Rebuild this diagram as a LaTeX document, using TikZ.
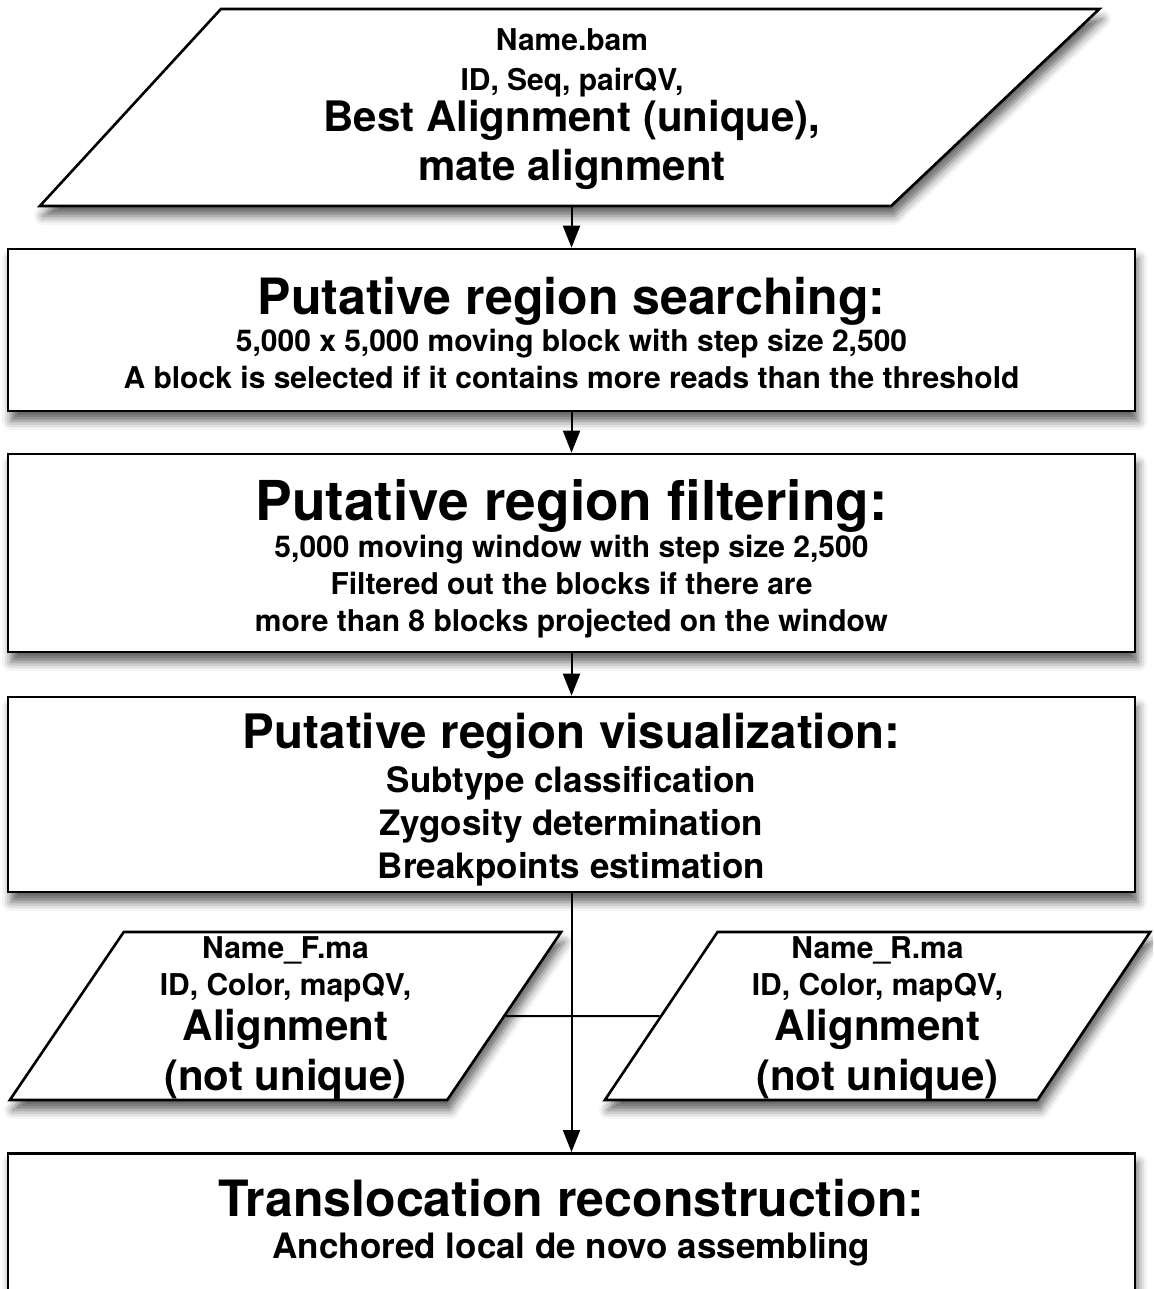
\documentclass[tikz,border=0pt]{standalone}
\usepackage{fontspec}
\setmainfont{TeX Gyre Heros}
\usepackage{tikz}
\usetikzlibrary{arrows.meta}
\usetikzlibrary{shapes.geometric}
\usetikzlibrary{shadows.blur}
\usetikzlibrary{positioning}

\newcommand{\titlesz}{\fontsize{50}{56}\selectfont}
\newcommand{\midsz}{\fontsize{42}{48}\selectfont}
\newcommand{\subsz}{\fontsize{35}{42}\selectfont}
\newcommand{\smallsz}{\fontsize{30}{37}\selectfont}
\newcommand{\padl}{\hspace*{32pt}}

\tikzset{
  softshadow/.style={blur shadow={shadow xshift=3pt, shadow yshift=-10pt,
      shadow blur radius=9pt, shadow opacity=62}},
  stage/.style={draw, line width=2.6pt, fill=white, softshadow,
      minimum width=1127pt, align=center, font=\bfseries\smallsz},
  datain/.style={trapezium, trapezium stretches=true, draw, line width=2.6pt,
      fill=white, softshadow, align=center, inner sep=0pt, font=\bfseries\smallsz},
  boxtext/.style={align=center, inner sep=0pt, font=\bfseries\smallsz},
  flow/.style={line width=2pt, -{Triangle[length=22pt, width=17pt]}},
  joinline/.style={line width=2pt}
}

\begin{document}
\begin{tikzpicture}[x=1pt, y=-1pt]
  \clip (0,0) rectangle (1153,1289);
  \useasboundingbox (0,0) rectangle (1153,1289);

  % input reads
  \node[datain, trapezium left angle=49, trapezium right angle=135,
        minimum width=1064pt, minimum height=197pt] (bam) at (556,107.5)
        {\padl\rule{0pt}{25pt}Name.bam\\[3pt]\padl ID, Seq, pairQV,\\[2pt]{\midsz\padl Best Alignment (unique),}\\[8pt]{\midsz\padl mate alignment}};

  % pipeline steps
  \node[stage, minimum height=162pt] (search) at (571.5,330)
        {{\titlesz\rule{0pt}{43pt}Putative region searching:}\\
         5,000 x 5,000 moving block with step size 2,500\\
         A block is selected if it contains more reads than the threshold};
  \node[stage, minimum height=198pt] (filter) at (571.5,553)
        {{\fontsize{55}{60}\selectfont\rule{0pt}{52pt}Putative region filtering:}\\
         5,000 moving window with step size 2,500\\
         Filtered out the blocks if there are\\
         more than 8 blocks projected on the window};
  \node[stage, minimum height=195pt] (visual) at (571.5,794.5)
        {{\fontsize{47.5}{54}\selectfont\rule{0pt}{45pt}Putative region visualization:}\\[7pt]
         {\subsz Subtype classification}\\[6pt]
         {\subsz Zygosity determination}\\[6pt]
         {\subsz Breakpoints estimation}};

  % mate files
  \node[datain, trapezium left angle=62, trapezium right angle=118,
        minimum width=555pt, minimum height=168pt] (fwd) at (285.5,1016)
        {\rule{0pt}{26pt}Name\_F.ma\\ID, Color, mapQV,\\[6pt]{\midsz Alignment}\\[8pt]{\midsz (not unique)}};
  \node[datain, trapezium left angle=62, trapezium right angle=118,
        minimum width=549pt, minimum height=168pt] (rev) at (877.5,1016)
        {\rule{0pt}{26pt}Name\_R.ma\\ID, Color, mapQV,\\[6pt]{\midsz Alignment}\\[8pt]{\midsz (not unique)}};

  % last step
  \node[stage, minimum height=190pt, anchor=north] (recon) at (571.5,1152) {};
  \node[boxtext, below=27pt of recon.north, font=\bfseries\subsz] (recontext)
        {{\titlesz Translocation reconstruction:}\\Anchored local de novo assembling};

  \draw[flow] (search.north |- bam.south) -- (search.north);
  \draw[flow] (search.south) -- (filter.north);
  \draw[flow] (filter.south) -- (visual.north);
  \draw[flow] (visual.south) -- (recon.north);
  \draw[joinline] (fwd.east) -- (rev.west);
\end{tikzpicture}
\end{document}
